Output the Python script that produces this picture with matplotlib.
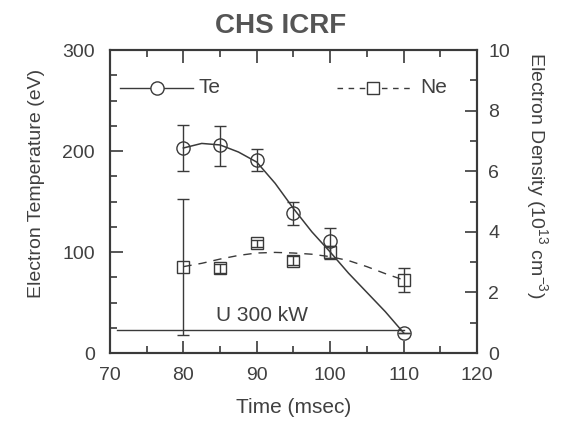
import matplotlib
matplotlib.use("Agg")
import matplotlib.pyplot as plt
from matplotlib.ticker import MultipleLocator

plt.rcParams['font.family'] = ['Liberation Sans', 'DejaVu Sans']
plt.rcParams['mathtext.fontset'] = 'custom'
plt.rcParams['mathtext.rm'] = 'Liberation Sans'
plt.rcParams['mathtext.it'] = 'Liberation Sans:italic'
plt.rcParams['mathtext.bf'] = 'Liberation Sans:bold'

# ---- data ----
time_te = [80, 85, 90, 95, 100, 110]
te = [203, 206, 191, 139, 111, 20]
te_err_lo = [23, 21, 11, 12, 18, 0]
te_err_hi = [23, 19, 11, 11, 13, 0]

time_ne = [80, 85, 90, 95, 100, 110]
ne = [2.85, 2.79, 3.62, 3.05, 3.32, 2.41]
ne_err_lo = [2.26, 0.15, 0.12, 0.15, 0.2, 0.39]
ne_err_hi = [2.22, 0.15, 0.12, 0.15, 0.2, 0.41]

# fitted curves as drawn in the picture
fit_t = [80, 82.5, 85, 87.5, 90, 92.5, 95, 97.5, 100, 102.5, 105, 107.5, 110]
te_fit = [203, 207.5, 206, 199, 189, 168, 143, 120, 100, 79, 60, 41, 20]
ne_fit = [2.85, 2.96, 3.10, 3.22, 3.30, 3.32, 3.30, 3.26, 3.18, 3.05, 2.85, 2.62, 2.41]

power_t = [71, 110]
power_level = [22.8, 22.8]

xticks = [70, 80, 90, 100, 110, 120]
yticks_left = [0, 100, 200, 300]
yticks_right = [0, 2, 4, 6, 8, 10]

ink = '#3a3a3a'
txt = '#404040'

fig = plt.figure(figsize=(5.69, 4.22), dpi=100)
ax = fig.add_axes([0.1933, 0.1635, 0.645, 0.718])
ax2 = ax.twinx()

# Te
ax.plot(fit_t, te_fit, '-', color=ink, lw=1.1)
ax.errorbar(time_te, te, yerr=[te_err_lo, te_err_hi], fmt='o', ms=9.5,
            mfc='none', mec=ink, mew=1.0, ecolor=ink, elinewidth=1.0,
            capsize=4, capthick=1.0)
ax.plot(power_t, power_level, '-', color=ink, lw=1.0)
ax.text(90.7, 37.6, 'U 300 kW', fontsize=15, color=txt, ha='center', va='center')

# Ne
ax2.plot(fit_t, ne_fit, '--', color=ink, lw=1.0, dashes=(6, 5))
ax2.errorbar(time_ne, ne, yerr=[ne_err_lo, ne_err_hi], fmt='s', ms=8,
             mfc='none', mec=ink, mew=1.0, ecolor=ink, elinewidth=1.0,
             capsize=4, capthick=1.0)

ax.set_xlim(70, 120)
ax.set_ylim(0, 300)
ax2.set_ylim(0, 10)
ax.set_xticks(xticks)
ax.set_yticks(yticks_left)
ax2.set_yticks(yticks_right)
ax.xaxis.set_minor_locator(MultipleLocator(5))
ax.yaxis.set_minor_locator(MultipleLocator(25))
ax2.yaxis.set_minor_locator(MultipleLocator(1))

ax.tick_params(axis='x', which='both', direction='in', top=True, colors=ink,
               labelcolor=txt, labelsize=14, width=1.2, pad=10)
ax.tick_params(axis='y', which='both', direction='in', colors=ink,
               labelcolor=txt, labelsize=14, width=1.2, pad=11)
ax2.tick_params(axis='y', which='both', direction='in', colors=ink,
                labelcolor=txt, labelsize=14, width=1.2, pad=8)
for a in (ax, ax2):
    a.tick_params(which='major', length=9)
    a.tick_params(which='minor', length=5)
    for s in a.spines.values():
        s.set_linewidth(1.5)
        s.set_color(ink)

ax.set_xlabel('Time (msec)', fontsize=15, color=txt, labelpad=10)
ax.set_ylabel('Electron Temperature (eV)', fontsize=14, color=txt)
ax.yaxis.set_label_coords(-0.177, 0.559)
ax.text(1.163, 0.587, 'Electron Density (10$^{13}$ cm$^{-3}$)', fontsize=14,
        color=txt, rotation=270, ha='center', va='center', transform=ax.transAxes)
ax.text(0.466, 1.056, 'CHS ICRF', fontsize=20, fontweight='bold', color='#555555',
        ha='center', va='baseline', transform=ax.transAxes)

# legend (drawn manually to match the split layout)
ly = 0.876
ax.plot([0.027, 0.227], [ly, ly], '-', color=ink, lw=1.0, transform=ax.transAxes)
ax.plot([0.127], [ly], 'o', ms=9.5, mfc='white', mec=ink, mew=1.0, transform=ax.transAxes)
ax.text(0.24, ly, 'Te', fontsize=15, color=txt, va='center', transform=ax.transAxes)
ax.plot([0.618, 0.826], [ly, ly], '--', color=ink, lw=1.0, dashes=(4, 4),
        transform=ax.transAxes)
ax.plot([0.717], [ly], 's', ms=8, mfc='white', mec=ink, mew=1.0, transform=ax.transAxes)
ax.text(0.845, ly, 'Ne', fontsize=15, color=txt, va='center', transform=ax.transAxes)

fig.savefig('out.png', dpi=100)
